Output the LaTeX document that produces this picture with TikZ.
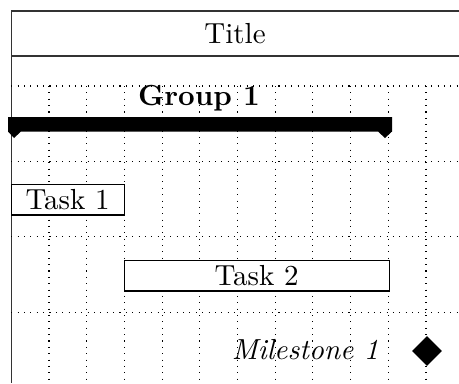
\documentclass[11pt,tikz,border=0pt]{standalone}
\usepackage{tikz}
\usetikzlibrary{shapes.geometric}
\tikzstyle{gridline} = [dotted,line width=0.4pt]
\tikzstyle{taskbar} = [rectangle,draw,fill=white,minimum height=0.41cm,inner sep=0pt,text centered]
\tikzstyle{milestone} = [diamond,fill,inner sep=0pt,minimum width=0.4cm,minimum height=0.4cm]

\begin{document}
\begin{tikzpicture}[x=0.013263cm,y=-0.013263cm]
	\useasboundingbox (0,0) rectangle (459,383);
	% frame and title
	\coordinate (tl) at (11.3,11);
	\coordinate (tr) at (459,11);
	\coordinate (hl) at (11.3,56);
	\coordinate (hr) at (459,56);
	\coordinate (bl) at (11.3,383);
	\draw[black!80] (tr)--(tl)--(bl);
	\draw[black!80] (hl)--(hr);
	\node (title) at (235,33.5) {Title};
	% grid
	\foreach \k in {1,...,11} \draw[gridline] ({11.3+37.7*\k},86)--({11.3+37.7*\k},383);
	\foreach \k in {0,...,3} \draw[gridline] (11.3,{86+75.4*\k})--(459,{86+75.4*\k});
	% group
	\fill (8,117)--(392,117)--(392,131.5)--(385,138)--(378,131.5)--(21,131.5)--(14,138)--(8,131.5)--cycle;
	\node [font=\bfseries,anchor=base](grp1) at (199,105) {Group 1};
	% tasks
	\node [taskbar,minimum width=1.5cm](task1) at (67.6,199.5) {Task 1};
	\node [taskbar,minimum width=3.515cm](task2) at (256.6,275.5) {Task 2};
	% milestone
	\node [font=\itshape,anchor=east](ms1label) at (389,350) {Milestone 1};
	\node [milestone](ms1) at (427,351) {};
\end{tikzpicture}
\end{document}
